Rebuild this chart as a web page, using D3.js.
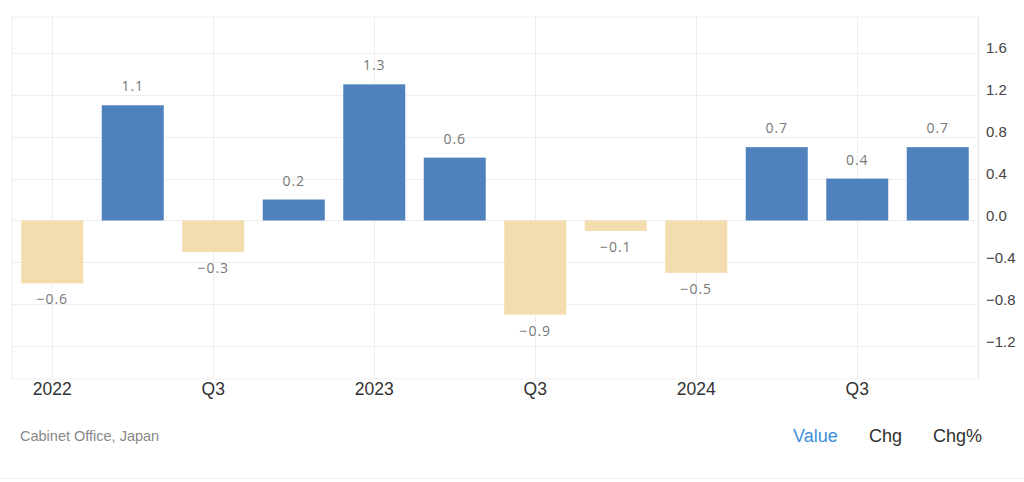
<!DOCTYPE html>
<html><head><meta charset="utf-8">
<script src="https://cdn.jsdelivr.net/npm/d3@7"></script>
<style>
body{margin:0;background:#fff;}
svg{display:block;}
</style></head>
<body>
<svg id="c" width="1024" height="482"></svg>
<script>
const categories = ["2022Q1","2022Q2","2022Q3","2022Q4","2023Q1","2023Q2","2023Q3","2023Q4","2024Q1","2024Q2","2024Q3","2024Q4"];
const values = [-0.6, 1.1, -0.3, 0.2, 1.3, 0.6, -0.9, -0.1, -0.5, 0.7, 0.4, 0.7];
const xTickLabels = ["2022","Q3","2023","Q3","2024","Q3"];
const xTickCats = ["2022Q1","2022Q3","2023Q1","2023Q3","2024Q1","2024Q3"];
const yTicks = [-1.2,-0.8,-0.4,0.0,0.4,0.8,1.2,1.6];
const legendItems = ["Value","Chg","Chg%"];

const svg = d3.select("#c");
const L = 12, R = 978, T = 17, B = 379;
const x = d3.scaleBand().domain(categories).range([L, R]).paddingInner(0.23).paddingOuter(0.115);
const y = d3.scaleLinear().domain([-1.514, 1.943]).range([B, T]);

// frame
svg.append("rect").attr("x", L).attr("y", T).attr("width", R - L).attr("height", B - T)
  .attr("fill", "none").attr("stroke", "#f0f0f0");

// horizontal grid
svg.append("g").selectAll("line").data(yTicks).join("line")
  .attr("x1", L).attr("x2", R).attr("y1", d => Math.round(y(d)) + 0.5).attr("y2", d => Math.round(y(d)) + 0.5)
  .attr("stroke", "#eeeeee");
// vertical grid
svg.append("g").selectAll("line").data(xTickCats).join("line")
  .attr("y1", T).attr("y2", B)
  .attr("x1", d => Math.round(x(d) + x.bandwidth() / 2) + 0.5).attr("x2", d => Math.round(x(d) + x.bandwidth() / 2) + 0.5)
  .attr("stroke", "#eeeeee");

// bars
svg.append("g").selectAll("rect").data(values).join("rect")
  .attr("x", (d, i) => x(categories[i]))
  .attr("width", x.bandwidth())
  .attr("y", d => y(Math.max(0, d)))
  .attr("height", d => Math.abs(y(d) - y(0)))
  .attr("fill", d => d >= 0 ? "#4f81bd" : "#f3dcae");

// value labels
svg.append("g").selectAll("text").data(values).join("text")
  .attr("x", (d, i) => x(categories[i]) + x.bandwidth() / 2)
  .attr("y", d => d >= 0 ? y(d) - 14 : y(d) + 21)
  .attr("text-anchor", "middle")
  .attr("font-family", "'Open Sans', sans-serif")
  .attr("font-size", 14)
  .attr("letter-spacing", 1)
  .attr("fill", "#777")
  .text(d => (d < 0 ? "\u2212" : "") + Math.abs(d).toFixed(1));

// right axis
const yAxis = d3.axisRight(y).tickValues(yTicks).tickSize(0).tickPadding(8).tickFormat(d3.format(".1f"));
const ya = svg.append("g").attr("transform", `translate(${R},0)`).call(yAxis);
ya.select(".domain").attr("stroke", "#e6e6e6");
ya.selectAll("text").attr("font-family", "'Liberation Sans', Arial, sans-serif").attr("font-size", 15)
  .attr("fill", "#444").attr("dy", "0.0em");

// bottom axis
const xAxis = d3.axisBottom(x).tickValues(xTickCats).tickSize(0).tickPadding(4)
  .tickFormat(d => xTickLabels[xTickCats.indexOf(d)]);
const xa = svg.append("g").attr("transform", `translate(0,${B})`).call(xAxis);
xa.select(".domain").remove();
xa.selectAll("text").attr("font-family", "'Liberation Sans', Arial, sans-serif").attr("font-size", 17.5).attr("fill", "#333");

// source
svg.append("text").attr("x", 20).attr("y", 441).attr("font-family", "'Liberation Sans', Arial, sans-serif")
  .attr("font-size", 14.5).attr("fill", "#888").text("Cabinet Office, Japan");

// legend-ish tabs
const legX = [793, 869, 933];
svg.append("g").selectAll("text").data(legendItems).join("text")
  .attr("x", (d, i) => legX[i]).attr("y", 442)
  .attr("font-family", "'Liberation Sans', Arial, sans-serif").attr("font-size", 18)
  .attr("fill", (d, i) => i === 0 ? "#3d8fdb" : "#333").text(d => d);

// bottom separator
svg.append("line").attr("x1", 0).attr("x2", 1024).attr("y1", 478.5).attr("y2", 478.5).attr("stroke", "#f0f0f0");
</script>
</body></html>
